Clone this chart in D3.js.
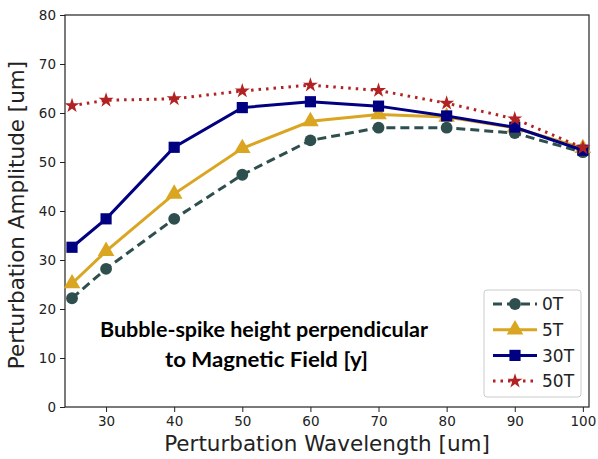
<!DOCTYPE html>
<html>
<head>
<meta charset="utf-8">
<script src="https://cdn.jsdelivr.net/npm/d3@7"></script>
<style>
  body { margin: 0; background: #fff; }
</style>
</head>
<body>
<div id="chart"></div>
<script>
const wavelengths = [25, 30, 40, 50, 60, 70, 80, 90, 100];
const amp0T = [22.2, 28.2, 38.4, 47.4, 54.4, 57.0, 57.0, 55.9, 52.0];
const amp5T = [25.2, 31.8, 43.5, 52.8, 58.3, 59.7, 59.2, 57.0, 52.8];
const amp30T = [32.6, 38.4, 53.0, 61.1, 62.3, 61.4, 59.4, 57.1, 52.4];
const amp50T = [61.5, 62.6, 62.9, 64.5, 65.7, 64.6, 62.0, 58.8, 52.9];
const xTicks = [30, 40, 50, 60, 70, 80, 90, 100];
const yTicks = [0, 10, 20, 30, 40, 50, 60, 70, 80];

const series = [
  { name: '0T', values: amp0T, color: '#2f4f4f', dash: '9,5', marker: 'circle' },
  { name: '5T', values: amp5T, color: '#daa520', dash: null, marker: 'triangle' },
  { name: '30T', values: amp30T, color: '#000080', dash: null, marker: 'square' },
  { name: '50T', values: amp50T, color: '#b22222', dash: '2.5,5', marker: 'star' }
];

const width = 598;
const height = 459;
const margin = { top: 15, right: 9, bottom: 52, left: 65 };
const font = '"DejaVu Sans", Verdana, sans-serif';

const x = d3.scaleLinear()
  .domain([23.97, 100.9])
  .range([margin.left, width - margin.right]);

const y = d3.scaleLinear()
  .domain([0, 80])
  .range([height - margin.bottom, margin.top]);

const svg = d3.select('#chart')
  .append('svg')
  .attr('width', width)
  .attr('height', height);

// axes
const xAxis = (g) => g
  .attr('transform', `translate(0,${height - margin.bottom})`)
  .call(d3.axisBottom(x).tickValues(xTicks).tickSize(5).tickPadding(4).tickSizeOuter(0))
  .call((g) => g.select('.domain').remove());

const yAxis = (g) => g
  .attr('transform', `translate(${margin.left},0)`)
  .call(d3.axisLeft(y).tickValues(yTicks).tickSize(5).tickPadding(4).tickSizeOuter(0))
  .call((g) => g.select('.domain').remove());

svg.append('g').call(xAxis).attr('font-family', font).attr('font-size', 13.5);
svg.append('g').call(yAxis).attr('font-family', font).attr('font-size', 13.5);

svg.selectAll('.tick text').attr('fill', '#222');
svg.selectAll('.tick line').attr('stroke', '#222').attr('stroke-width', 1);

svg.append('rect')
  .attr('x', margin.left)
  .attr('y', margin.top)
  .attr('width', width - margin.left - margin.right)
  .attr('height', height - margin.top - margin.bottom)
  .attr('fill', 'none')
  .attr('stroke', '#222')
  .attr('stroke-width', 1.2);

svg.append('text')
  .attr('x', (margin.left + width - margin.right) / 2)
  .attr('y', 451)
  .attr('text-anchor', 'middle')
  .attr('font-family', font)
  .attr('font-size', 21.5)
  .attr('fill', '#222')
  .text('Perturbation Wavelength [um]');

svg.append('text')
  .attr('transform', 'translate(24,215) rotate(-90)')
  .attr('text-anchor', 'middle')
  .attr('font-family', font)
  .attr('font-size', 21.5)
  .attr('fill', '#222')
  .text('Perturbation Amplitude [um]');

// markers
const symbolFor = {
  circle: d3.symbol(d3.symbolCircle, 110),
  triangle: d3.symbol(d3.symbolTriangle, 120),
  square: d3.symbol(d3.symbolSquare, 125),
  star: d3.symbol(d3.symbolStar, 70)
};

const line = d3.line()
  .x((d) => x(d[0]))
  .y((d) => y(d[1]));

series.forEach((s) => {
  const pts = wavelengths.map((w, i) => [w, s.values[i]]);
  const g = svg.append('g');
  g.append('path')
    .datum(pts)
    .attr('d', line)
    .attr('fill', 'none')
    .attr('stroke', s.color)
    .attr('stroke-width', 3)
    .attr('stroke-dasharray', s.dash);
  g.selectAll('path.marker')
    .data(pts)
    .join('path')
    .attr('class', 'marker')
    .attr('transform', (d) => `translate(${x(d[0])},${y(d[1])})`)
    .attr('d', symbolFor[s.marker])
    .attr('fill', s.color);
});

// annotation
const note = svg.append('text')
  .attr('text-anchor', 'middle')
  .attr('font-size', 21)
  .attr('font-weight', 'bold')
  .attr('fill', '#000')
  .attr('font-family', 'Lato, "Open Sans", sans-serif');
note.append('tspan').attr('x', 264).attr('y', 337)
  .attr('textLength', 328).attr('lengthAdjust', 'spacingAndGlyphs')
  .text('Bubble-spike height perpendicular');
note.append('tspan').attr('x', 266.5).attr('y', 367)
  .attr('textLength', 203).attr('lengthAdjust', 'spacingAndGlyphs')
  .text('to Magnetic Field [y]');

// legend
const legend = svg.append('g').attr('transform', 'translate(484,290)');
legend.append('rect')
  .attr('width', 97)
  .attr('height', 107)
  .attr('rx', 3)
  .attr('fill', '#fff')
  .attr('fill-opacity', 0.8)
  .attr('stroke', '#ccc');

series.forEach((s, i) => {
  const row = legend.append('g').attr('transform', `translate(0,${14 + i * 25.7})`);
  row.append('line')
    .attr('x1', 9).attr('x2', 53)
    .attr('stroke', s.color)
    .attr('stroke-width', 3)
    .attr('stroke-dasharray', s.dash);
  row.append('path')
    .attr('transform', 'translate(31,0)')
    .attr('d', symbolFor[s.marker])
    .attr('fill', s.color);
  row.append('text')
    .attr('x', 58)
    .attr('y', 0)
    .attr('dy', '0.36em')
    .attr('font-family', font)
    .attr('font-size', 17)
    .attr('fill', '#222')
    .text(s.name);
});
</script>
</body>
</html>
